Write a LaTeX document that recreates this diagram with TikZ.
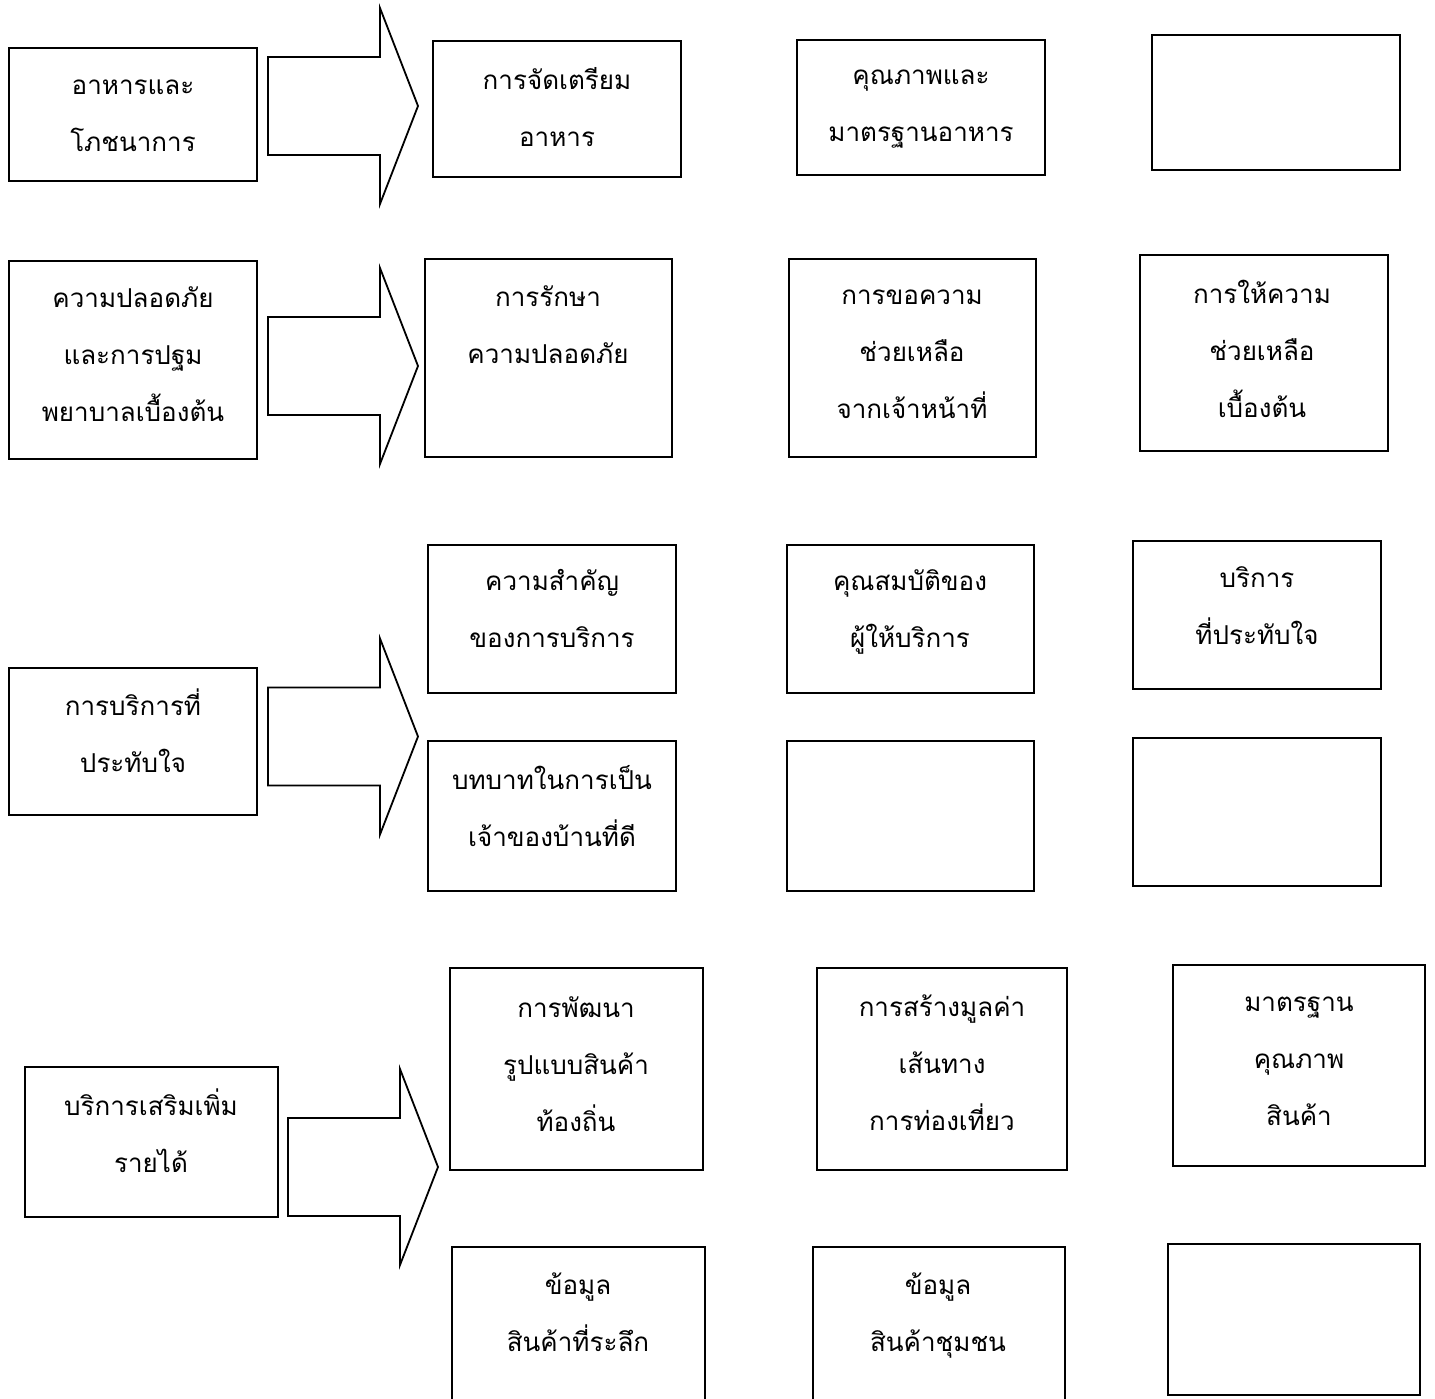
\documentclass[tikz,border=0pt]{standalone}
\usepackage{fontspec}
\newfontfamily\thaifont[Script=Thai]{Loma}
\usepackage{tikz}
\usetikzlibrary{positioning}

\begin{document}
\begin{tikzpicture}[x=0.5pt, y=-0.5pt,
    box/.style 2 args={draw, line width=0.9pt, inner sep=0pt,
        minimum width=#1*0.5pt, minimum height=#2*0.5pt},
    txt/.style={align=center, inner sep=0pt,
        font=\thaifont\fontsize{13}{28.5}\selectfont},
    arr/.style={draw, line width=0.9pt, line join=miter}]
    \useasboundingbox (0,0) rectangle (1435,1398);
    \clip (0,0) rectangle (1435,1398);

    \node[box={248}{133}] (a1) at (133,114.5) {};
    \node[box={248}{136}] (b1) at (557,109) {};
    \node[box={248}{135}] (c1) at (921,107.5) {};
    \node[box={248}{135}] (d1) at (1276,102.5) {};
    \node[txt] (a1t) at (133,115.5) {อาหารและ\\โภชนาการ};
    \node[txt] (b1t) at (557,107) {การจัดเตรียม\\อาหาร};
    \node[txt] (c1t) at (921,109) {คุณภาพและ\\มาตรฐานอาหาร};

    \node[box={248}{198}] (a2) at (133,360) {};
    \node[box={247}{198}] (b2) at (548.5,358) {};
    \node[box={247}{198}] (c2) at (912.5,358) {};
    \node[box={248}{196}] (d2) at (1264,353) {};
    \node[txt] (a2t) at (133,354) {ความปลอดภัย\\และการปฐม\\พยาบาลเบื้องต้น};
    \node[txt] (b2t) at (548,325) {การรักษา\\ความปลอดภัย};
    \node[txt] (c2t) at (912,354) {การขอความ\\ช่วยเหลือ\\จากเจ้าหน้าที่};
    \node[txt] (d2t) at (1262,349) {การให้ความ\\ช่วยเหลือ\\เบื้องต้น};

    \node[box={248}{147}] (a3) at (133,741.5) {};
    \node[box={248}{148}] (b3) at (552,619) {};
    \node[box={247}{148}] (c3) at (910.5,619) {};
    \node[box={248}{148}] (d3) at (1257,615) {};
    \node[box={248}{150}] (e3) at (552,816) {};
    \node[box={247}{150}] (f3) at (910.5,816) {};
    \node[box={248}{148}] (g3) at (1257,812) {};
    \node[txt] (a3t) at (133,731) {การบริการที่\\ประทับใจ};
    \node[txt] (b3t) at (552,608) {ความสำคัญ\\ของการบริการ};
    \node[txt] (c3t) at (910,612) {คุณสมบัติของ\\ผู้ให้บริการ};
    \node[txt] (d3t) at (1257,606) {บริการ\\ที่ประทับใจ};
    \node[txt] (e3t) at (552,806) {บทบาทในการเป็น\\เจ้าของบ้านที่ดี};

    \node[box={253}{150}] (a4) at (151.5,1142) {};
    \node[box={253}{202}] (b4) at (576.5,1069) {};
    \node[box={250}{202}] (c4) at (942,1069) {};
    \node[box={252}{201}] (d4) at (1299,1065.5) {};
    \node[box={253}{173}] (e4) at (578.5,1333.5) {};
    \node[box={252}{173}] (f4) at (939,1333.5) {};
    \node[box={252}{151}] (g4) at (1294,1319.5) {};
    \node[txt] (a4t) at (151,1131) {บริการเสริมเพิ่ม\\รายได้};
    \node[txt] (b4t) at (576,1064) {การพัฒนา\\รูปแบบสินค้า\\ท้องถิ่น};
    \node[txt] (c4t) at (942,1063) {การสร้างมูลค่า\\เส้นทาง\\การท่องเที่ยว};
    \node[txt] (d4t) at (1299,1061) {มาตรฐาน\\คุณภาพ\\สินค้า};
    \node[txt] (e4t) at (578,1312) {ข้อมูล\\สินค้าที่ระลึก};
    \node[txt] (f4t) at (938,1316) {ข้อมูล\\สินค้าชุมชน};

    \foreach \x/\y in {268/106, 268/366, 268/736.5, 288/1167}
        \draw[arr] (\x,\y-49) -- (\x+112,\y-49) -- (\x+112,\y-98) -- (\x+150,\y)
            -- (\x+112,\y+98) -- (\x+112,\y+49) -- (\x,\y+49) -- cycle;
\end{tikzpicture}
\end{document}
